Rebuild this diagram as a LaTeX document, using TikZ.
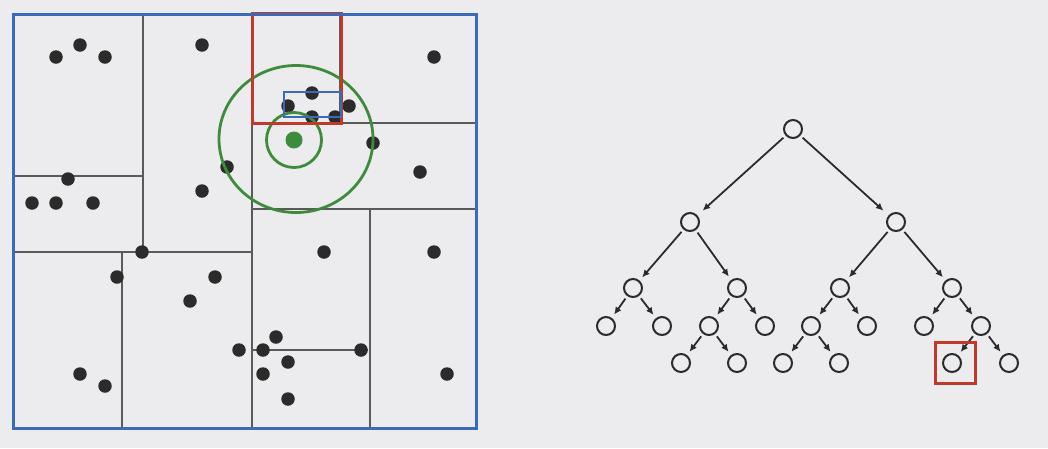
\documentclass[tikz,border=0pt]{standalone}
\usetikzlibrary{arrows.meta}
\definecolor{bg}{HTML}{ECEBEE}
\definecolor{kdblue}{HTML}{3B6BB8}
\definecolor{kdred}{HTML}{C0392B}
\definecolor{kdgreen}{HTML}{3D8B3D}
\definecolor{kdgray}{HTML}{5A5A5A}
\definecolor{ink}{HTML}{2B2B2B}
\begin{document}
\begin{tikzpicture}[x=1pt,y=-1pt,
  pt/.style={circle,fill=ink,inner sep=0pt,minimum size=13.5pt},
  split/.style={draw=kdgray,line width=2pt},
  tn/.style={circle,draw=ink,line width=2pt,minimum size=18pt,inner sep=0pt},
  tedge/.style={draw=ink,line width=1.8pt,-{Latex[length=7.5pt,width=7pt]},shorten >=4pt,shorten <=3pt}]
\useasboundingbox (0,0) rectangle (1048,448);
\fill[bg] (0,0) rectangle (1048,448);
% ---- partition lines
\draw[split] (143,14) -- (143,252);
\draw[split] (13,176) -- (143,176);
\draw[split] (13,252) -- (252,252);
\draw[split] (252,14) -- (252,428);
\draw[split] (122,252) -- (122,428);
\draw[split] (252,123) -- (476,123);
\draw[split] (340,14) -- (340,123);
\draw[split] (252,209) -- (476,209);
\draw[split] (370,209) -- (370,428);
\draw[split] (252,350) -- (368,350);
% ---- data points
\foreach \x/\y [count=\i] in {56/57,80/45,105/57,202/45,434/57,312/93,288/106,312/117,335/117,349/106,
  373/143,420/172,227/167,202/191,68/179,32/203,56/203,93/203,142/252,117/277,215/277,190/301,
  324/252,434/252,276/337,239/350,263/350,361/350,288/362,263/374,288/399,80/374,105/386,447/374}
  \node[pt] (p\i) at (\x,\y) {};
% ---- query point and search circles
\node[circle,fill=kdgreen,inner sep=0pt,minimum size=17pt] (q) at (294,140) {};
\draw[kdgreen,line width=2.8pt] (q.center) circle[radius=27.5];
\draw[kdgreen,line width=2.8pt] (296,139) ellipse[x radius=77,y radius=73.5];
% ---- boxes
\draw[kdred,line width=3pt] (252,13) rectangle (341,123);
\draw[kdblue,line width=1.6pt] (284,92) rectangle (341,117);
\draw[kdblue,line width=3pt] (13,14) rectangle (476,428);
% ---- tree
\node[tn] (r) at (793,129) {};
\node[tn] (a) at (690,222) {};
\node[tn] (b) at (896,222) {};
\node[tn] (aa) at (633,288) {};
\node[tn] (ab) at (737,288) {};
\node[tn] (ba) at (840,288) {};
\node[tn] (bb) at (952,288) {};
\node[tn] (aaa) at (606,326) {};
\node[tn] (aab) at (662,326) {};
\node[tn] (aba) at (709,326) {};
\node[tn] (abb) at (765,326) {};
\node[tn] (baa) at (811,326) {};
\node[tn] (bab) at (867,326) {};
\node[tn] (bba) at (924,326) {};
\node[tn] (bbb) at (981,326) {};
\node[tn] (abaa) at (681,363) {};
\node[tn] (abab) at (737,363) {};
\node[tn] (baaa) at (783,363) {};
\node[tn] (baab) at (839,363) {};
\node[tn] (bbba) at (952,363) {};
\node[tn] (bbbb) at (1009,363) {};
\draw[tedge,shorten >=7pt] (r) -- (a);
\draw[tedge,shorten >=7pt] (r) -- (b);
\foreach \p/\c in {a/aa,a/ab,b/ba,b/bb,aa/aaa,aa/aab,ab/aba,ab/abb,ba/baa,ba/bab,bb/bba,bb/bbb,
  aba/abaa,aba/abab,baa/baaa,baa/baab,bbb/bbba,bbb/bbbb}
  \draw[tedge] (\p) -- (\c);
\node[draw=kdred,line width=3pt,minimum width=40pt,minimum height=41pt,inner sep=0pt] (hit) at (955,362.5) {};
\end{tikzpicture}
\end{document}
